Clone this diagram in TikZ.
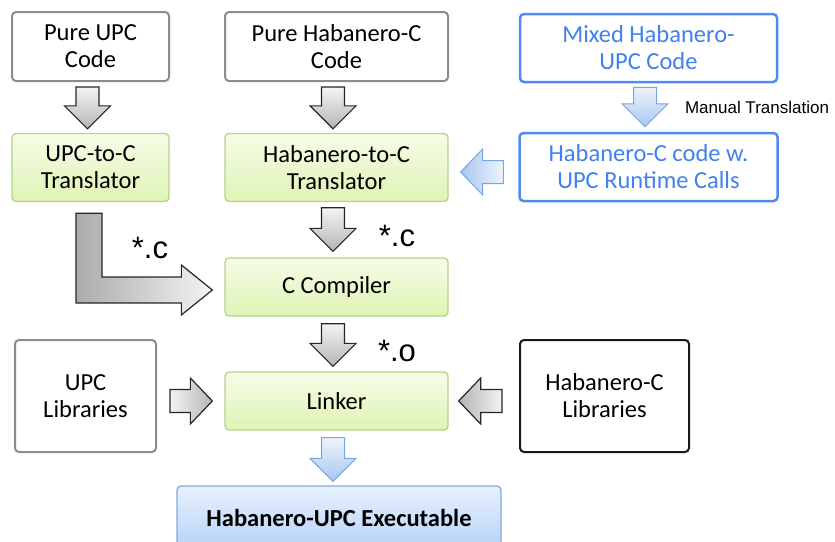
\documentclass[tikz,border=0pt]{standalone}
\usepackage{fontspec}
\setmainfont{Carlito}
\newfontfamily\arialfont{Liberation Sans}
\usepackage{tikz}
\usetikzlibrary{positioning}
\usetikzlibrary{calc}
\definecolor{boxgray}{RGB}{140,140,140}
\definecolor{bluetext}{RGB}{66,128,240}
\definecolor{blueedge}{RGB}{80,138,245}
\definecolor{greentop}{RGB}{246,252,232}
\definecolor{greenbot}{RGB}{222,244,180}
\definecolor{greenedge}{RGB}{180,212,135}
\definecolor{exetop}{RGB}{232,241,253}
\definecolor{exebot}{RGB}{182,210,248}
\definecolor{exeedge}{RGB}{130,170,225}
\definecolor{arrtop}{RGB}{244,244,244}
\definecolor{arrbot}{RGB}{180,180,180}
\definecolor{barrtop}{RGB}{238,244,253}
\definecolor{barrbot}{RGB}{168,198,240}
\definecolor{barredge}{RGB}{120,165,225}
\tikzset{every node/.style={font=\fontsize{24.5}{27}\selectfont, align=center, inner sep=0pt},
codebox/.style={draw=boxgray, line width=2pt, rounded corners=4pt, fill=white},
libbox/.style={draw=black!90, line width=2pt, rounded corners=4pt, fill=white},
greenbox/.style={draw=greenedge, line width=1.3pt, rounded corners=4pt, top color=greentop, bottom color=greenbot},
bluebox/.style={draw=blueedge, line width=2.5pt, rounded corners=4pt, fill=white, text=bluetext},
exebox/.style={draw=exeedge, line width=1.3pt, rounded corners=4pt, top color=exetop, bottom color=exebot},
lbl/.style={font=\arialfont\fontsize{31}{32}\selectfont},
smalllbl/.style={font=\arialfont\fontsize{17}{18}\selectfont},
grayarr/.style={draw=black!85, line width=1.2pt, top color=arrtop, bottom color=arrbot},
grayright/.style={draw=black!85, line width=1.2pt, left color=arrtop, right color=arrbot},
grayleft/.style={draw=black!85, line width=1.2pt, left color=arrbot, right color=arrtop},
bluedown/.style={draw=barredge, line width=1pt, top color=barrtop, bottom color=barrbot},
blueleft/.style={draw=barredge, line width=1pt, left color=barrbot, right color=barrtop},
lbend/.style={draw=black!85, line width=1.2pt, left color=black!33, right color=arrtop}}
% fat block arrows: style, start (middle of the back), tip
\newcommand{\downblock}[3]{\path[#1] let \p1=(#2), \p2=(#3) in
  (\x1-11.5pt,\y1) -- (\x1+11.5pt,\y1) -- (\x1+11.5pt,\y2+23pt) -- (\x1+23pt,\y2+23pt)
  -- (\x1,\y2) -- (\x1-23pt,\y2+23pt) -- (\x1-11.5pt,\y2+23pt) -- cycle;}
\newcommand{\leftblock}[3]{\path[#1] let \p1=(#2), \p2=(#3) in
  (\x1,\y1+11.5pt) -- (\x2+22pt,\y1+11.5pt) -- (\x2+22pt,\y1+23pt) -- (\x2,\y1)
  -- (\x2+22pt,\y1-23pt) -- (\x2+22pt,\y1-11.5pt) -- (\x1,\y1-11.5pt) -- cycle;}
\newcommand{\rightblock}[3]{\path[#1] let \p1=(#2), \p2=(#3) in
  (\x1,\y1+11.5pt) -- (\x2-22pt,\y1+11.5pt) -- (\x2-22pt,\y1+23pt) -- (\x2,\y1)
  -- (\x2-22pt,\y1-23pt) -- (\x2-22pt,\y1-11.5pt) -- (\x1,\y1-11.5pt) -- cycle;}
\begin{document}
\begin{tikzpicture}[x=1pt,y=-1pt]
\clip (0,0) rectangle (835,541);
\node (pupc) [codebox, minimum width=157pt, minimum height=69pt] at (90.5,46.5) {Pure UPC\\Code};
\node (upc2c) [greenbox, below of=pupc, node distance=121pt, minimum width=157pt, minimum height=68pt] {UPC-to-C\\Translator};

\node (phc) [codebox, minimum width=223pt, minimum height=69pt] at (336.5,46.5) {Pure Habanero-C\\Code};
\node (hc2c) [greenbox, below of=phc, node distance=121pt, minimum width=223pt, minimum height=68pt] {Habanero-to-C\\Translator};
\node (ccomp) [greenbox, below of=hc2c, node distance=119.5pt, minimum width=223pt, minimum height=58pt] {C Compiler};
\node (linker) [greenbox, below of=ccomp, node distance=114pt, minimum width=223pt, minimum height=58pt] {Linker};
\node (exe) [exebox, below of=linker, node distance=117pt, xshift=2.5pt, minimum width=324pt, minimum height=64pt] {\bfseries Habanero-UPC Executable};

\node (mixed) [bluebox, minimum width=257pt, minimum height=68pt] at (648.5,48) {Mixed Habanero-\\UPC Code};
\node (hcw) [bluebox, below of=mixed, node distance=119pt, minimum width=258pt, minimum height=68pt] {Habanero-C code w.\\UPC Runtime Calls};

\node (upclib) [codebox, left of=linker, node distance=251pt, yshift=5pt, minimum width=141pt, minimum height=112pt] {UPC\\Libraries};
\node (hclib) [libbox, right of=linker, node distance=268pt, yshift=5pt, minimum width=169pt, minimum height=112pt] {Habanero-C\\Libraries};

\node (manual) [smalllbl] at (757,107) {Manual Translation};
\node (srcc1) [lbl] at (150,248) {*.c};
\node (srcc2) [lbl] at (397,236) {*.c};
\node (objo) [lbl] at (397,351) {*.o};

\downblock{grayarr}{[xshift=-3pt,yshift=-5pt]pupc.south}{[xshift=-3pt,yshift=4pt]upc2c.north}
\downblock{grayarr}{[xshift=-3.5pt,yshift=-5pt]phc.south}{[yshift=4pt]hc2c.north}
\downblock{grayarr}{[xshift=-3.5pt,yshift=-5.5pt]hc2c.south}{[yshift=6pt]ccomp.north}
\downblock{grayarr}{[xshift=-3.5pt,yshift=-7pt]ccomp.south}{[yshift=5pt]linker.north}
\downblock{bluedown}{[xshift=-3.5pt,yshift=-4pt]mixed.south}{[yshift=5pt]hcw.north}
\downblock{bluedown}{[xshift=-3.5pt,yshift=-7pt]linker.south}{[yshift=4pt]exe.north}

\leftblock{blueleft}{[xshift=-15pt,yshift=-5pt]hcw.west}{[xshift=12pt]hc2c.east}
\leftblock{grayleft}{[xshift=-17pt,yshift=-5pt]hclib.west}{[xshift=10pt]linker.east}
\rightblock{grayright}{[xshift=13pt,yshift=-5pt]upclib.east}{[xshift=-12pt]linker.west}

% bent arrow from the UPC translator into the compiler
\path[lbend] let \p1=([xshift=-1.5pt,yshift=-11pt]upc2c.south), \p2=([xshift=-12pt,yshift=-3pt]ccomp.west) in
  (\x1-13pt,\y1) -- (\x1+13pt,\y1) -- (\x1+13pt,\y2+13pt) -- (\x2-31pt,\y2+13pt) -- (\x2-31pt,\y2+25pt)
  -- (\x2,\y2) -- (\x2-31pt,\y2-25pt) -- (\x2-31pt,\y2-13pt) -- (\x1-13pt,\y2-13pt) -- cycle;
\end{tikzpicture}
\end{document}
